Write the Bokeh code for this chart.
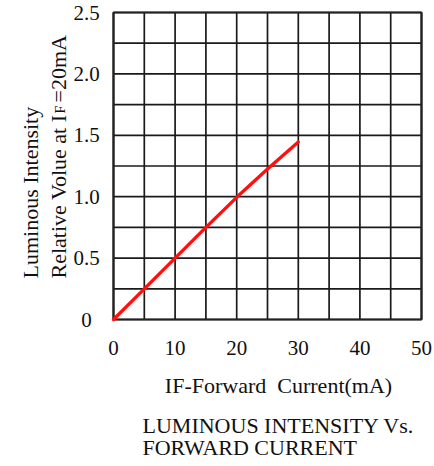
from bokeh.plotting import figure
from bokeh.models import Range1d, Label, LabelSet, ColumnDataSource
from bokeh.embed import file_html
from bokeh.resources import INLINE
import math

# ---- data ----
forward_current = [0, 5, 10, 15, 20, 25, 30]
relative_intensity = [0.0, 0.25, 0.5, 0.75, 0.995, 1.225, 1.445]

x_tick_values = [0, 10, 20, 30, 40, 50]
x_tick_labels = ["0", "10", "20", "30", "40", "50"]
y_tick_values = [0, 0.5, 1.0, 1.5, 2.0, 2.5]
y_tick_labels = ["0", "0.5", "1.0", "1.5", "2.0", "2.5"]
x_grid_values = [0, 5, 10, 15, 20, 25, 30, 35, 40, 45, 50]
y_grid_values = [0, 0.25, 0.5, 0.75, 1.0, 1.25, 1.5, 1.75, 2.0, 2.25, 2.5]

x_axis_title = "IF-Forward\u00a0 Current(mA)"
y_title_line1 = "Luminous Intensity"
y_title_line2a = "Relative Volue at I"
y_title_sub = "F"
y_title_line2b = "=20mA"
caption_line1 = "LUMINOUS INTENSITY Vs."
caption_line2 = "FORWARD CURRENT"

FONT = "Liberation Serif"
TXT = "#111111"

# ---- layout (pixels) ----
W, H = 434, 466
PL, PR, PT, PB = 113, 421, 12, 319   # plot area edges on the canvas
XMIN, XMAX = 0, 50
YMIN, YMAX = 0, 2.5
xs = (XMAX - XMIN) / (PR - PL)
ys = (YMAX - YMIN) / (PB - PT)

p = figure(width=W, height=H, output_backend="svg", toolbar_location=None,
           title=None,
           x_range=Range1d(XMIN - PL * xs, XMAX + (W - PR) * xs),
           y_range=Range1d(YMIN - (H - PB) * ys, YMAX + PT * ys),
           x_axis_location=None, y_axis_location=None,
           min_border=0, min_border_left=0, min_border_right=0,
           min_border_top=0, min_border_bottom=0,
           background_fill_color="white", border_fill_color="white")
p.outline_line_color = None
p.grid.visible = False

# grid lines
p.segment(x0=x_grid_values, y0=YMIN, x1=x_grid_values, y1=YMAX,
          line_color="#1a1a1a", line_width=1.7)
p.segment(x0=XMIN, y0=y_grid_values, x1=XMAX, y1=y_grid_values,
          line_color="#1a1a1a", line_width=1.7)
# plot frame
p.quad(left=XMIN, right=XMAX, bottom=YMIN, top=YMAX, fill_color=None,
       line_color="#222222", line_width=2.2)

# curve
p.line(forward_current, relative_intensity, line_color="#ff0f0f", line_width=3.3,
       line_cap="round", line_join="round")

# tick labels
xsrc = ColumnDataSource(dict(x=x_tick_values, text=x_tick_labels))
p.add_layout(LabelSet(x="x", y=H - 347, text="text", source=xsrc, x_units="data",
                      y_units="screen", text_align="center", text_baseline="middle",
                      text_font=FONT, text_font_size="21px", text_color=TXT))
ysrc = ColumnDataSource(dict(y=y_tick_values, text=y_tick_labels))
p.add_layout(LabelSet(x=86, y="y", text="text", source=ysrc, x_units="screen",
                      y_units="data", text_align="center", text_baseline="middle",
                      text_font=FONT, text_font_size="21px", text_color=TXT))


def lab(text, cx, cy, size="22px", align="left", baseline="middle", angle=0.0):
    p.add_layout(Label(x=cx, y=H - cy, x_units="screen", y_units="screen", text=text,
                       angle=angle, text_align=align, text_baseline=baseline,
                       text_font=FONT, text_font_size=size, text_color=TXT))


lab(x_axis_title, 278, 385, align="center")
lab(caption_line1, 142, 425)
lab(caption_line2, 142, 447)

ang = math.pi / 2
lab(y_title_line1, 30, 278, baseline="alphabetic", angle=ang)
lab(y_title_line2a, 58, 278, baseline="alphabetic", angle=ang)
lab(y_title_sub, 60, 113, size="14px", baseline="alphabetic", angle=ang)
lab(y_title_line2b, 58, 102, baseline="alphabetic", angle=ang)

open("out.html", "w").write(file_html(p, INLINE))
